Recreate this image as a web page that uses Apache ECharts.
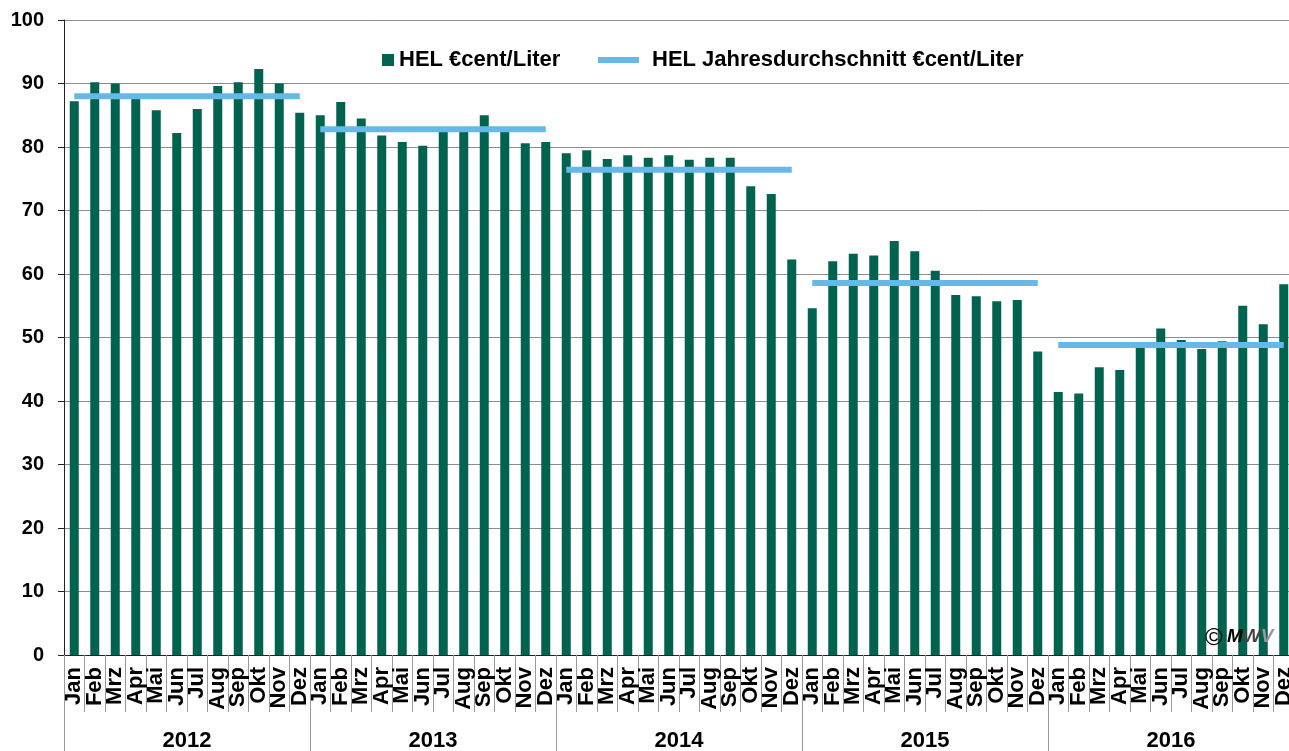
<!DOCTYPE html>
<html lang="de">
	<head>
		<meta charset="utf-8">
		<title>HEL Preise 2012-2016</title>
		<style type="text/css">
			html, body { margin: 0; padding: 0; background: #fff; }
			#chart { width: 1289px; height: 751px; }
		</style>
	</head>
	<body>
		<div id="chart"></div>
		<script src="https://cdn.jsdelivr.net/npm/echarts@6/dist/echarts.min.js"></script>
		<script type="text/javascript">
			// Monate und Jahre
			var months = ['Jan', 'Feb', 'Mrz', 'Apr', 'Mai', 'Jun', 'Jul', 'Aug', 'Sep', 'Okt', 'Nov', 'Dez'];
			var years = ['2012', '2013', '2014', '2015', '2016'];
			// HEL €cent/Liter, je Monat
			var hel2012 = [87.2, 90.2, 90.0, 88.0, 85.8, 82.2, 86.0, 89.6, 90.2, 92.3, 90.0, 85.4];
			var hel2013 = [85.0, 87.1, 84.5, 81.8, 80.8, 80.2, 82.8, 82.8, 85.0, 82.7, 80.6, 80.8];
			var hel2014 = [79.0, 79.5, 78.1, 78.7, 78.3, 78.7, 78.0, 78.3, 78.3, 73.8, 72.6, 62.3];
			var hel2015 = [54.6, 62.0, 63.2, 62.9, 65.2, 63.6, 60.5, 56.7, 56.5, 55.7, 55.9, 47.8];
			var hel2016 = [41.4, 41.2, 45.3, 44.9, 48.8, 51.4, 49.6, 48.2, 49.4, 55.0, 52.1, 58.4];
			// Jahresdurchschnitt
			var jahresschnitt = [88.0, 82.8, 76.4, 58.6, 48.8];

			var barName = 'HEL €cent/Liter',
				avgName = 'HEL Jahresdurchschnitt €cent/Liter',
				font = '"Liberation Sans", Arial, Helvetica, sans-serif';

			var categories = [], values = [];
			var perYear = [hel2012, hel2013, hel2014, hel2015, hel2016];
			years.forEach(function(y, i) {
				months.forEach(function(m, j) {
					categories.push(m + ' ' + y);
					values.push(perYear[i][j]);
				});
			});

			var series = [{
				name: barName,
				type: 'bar',
				xAxisIndex: 0,
				data: values,
				barWidth: 9,
				itemStyle: { color: '#00634f' },
				z: 2
			}];
			// eine Linie je Jahr
			jahresschnitt.forEach(function(v, i) {
				var d = categories.map(function(c, k) {
					return Math.floor(k / 12) === i ? v : '-';
				});
				series.push({
					name: avgName,
					type: 'line',
					xAxisIndex: 0,
					data: d,
					symbol: 'none',
					connectNulls: false,
					lineStyle: { color: '#66b8e6', width: 6, cap: 'butt' },
					itemStyle: { color: '#66b8e6' },
					z: 3
				});
			});

			var myChart = echarts.init(document.getElementById('chart'));
			myChart.setOption({
				animation: false,
				textStyle: { fontFamily: font },
				grid: { left: 64, top: 20, width: 1230, height: 635, outerBoundsMode: 'none', containLabel: false },
				legend: [{
					data: [barName],
					left: 377,
					top: 44,
					icon: 'rect',
					itemWidth: 12,
					itemHeight: 12,
					textStyle: { fontSize: 22, fontWeight: 'bold', color: '#000', fontFamily: font }
				}, {
					data: [avgName],
					left: 593,
					top: 44,
					icon: 'rect',
					itemWidth: 41,
					itemHeight: 6,
					textStyle: { fontSize: 22, fontWeight: 'bold', color: '#000', fontFamily: font, padding: [0, 0, 0, 8] }
				}],
				xAxis: [{
					type: 'category',
					data: categories,
					position: 'bottom',
					boundaryGap: true,
					axisLine: { show: true, onZero: false, lineStyle: { color: '#222', width: 1 } },
					axisTick: { show: true, interval: 0, length: 57, lineStyle: { color: '#999' } },
					axisLabel: {
						interval: 0,
						rotate: 90,
						margin: 12,
						fontSize: 22,
						fontWeight: 'bold',
						color: '#000',
						formatter: function(v) { return v.split(' ')[0]; }
					},
					splitLine: { show: false }
				}, {
					type: 'category',
					data: years,
					position: 'bottom',
					boundaryGap: true,
					axisLine: { show: false, onZero: false },
					axisTick: { show: true, interval: 0, length: 100, lineStyle: { color: '#999' } },
					axisLabel: { interval: 0, margin: 75, fontSize: 22, fontWeight: 'bold', color: '#000' },
					splitLine: { show: false }
				}],
				yAxis: {
					type: 'value',
					min: 0,
					max: 100,
					interval: 10,
					axisLine: { show: true, lineStyle: { color: '#222' } },
					axisTick: { show: true, length: 6, lineStyle: { color: '#222' } },
					axisLabel: { margin: 20, fontSize: 20, fontWeight: 'bold', color: '#000' },
					splitLine: { show: true, lineStyle: { color: '#8c8c8c', width: 1 } }
				},
				graphic: [{
					type: 'text',
					left: 1205,
					top: 626,
					z: 10,
					style: { text: '©', font: '24px ' + font, fill: '#000' }
				}, {
					type: 'text',
					left: 1227,
					top: 627,
					z: 10,
					style: {
						text: '{a|M}{b|W}{c|V}',
						rich: {
							a: { fontSize: 19, fontWeight: 'bold', fontStyle: 'italic', fontFamily: font, fill: '#000' },
							b: { fontSize: 19, fontWeight: 'bold', fontStyle: 'italic', fontFamily: font, fill: '#444' },
							c: { fontSize: 19, fontWeight: 'bold', fontStyle: 'italic', fontFamily: font, fill: '#999' }
						}
					}
				}],
				series: series
			});
		</script>
	</body>
</html>
